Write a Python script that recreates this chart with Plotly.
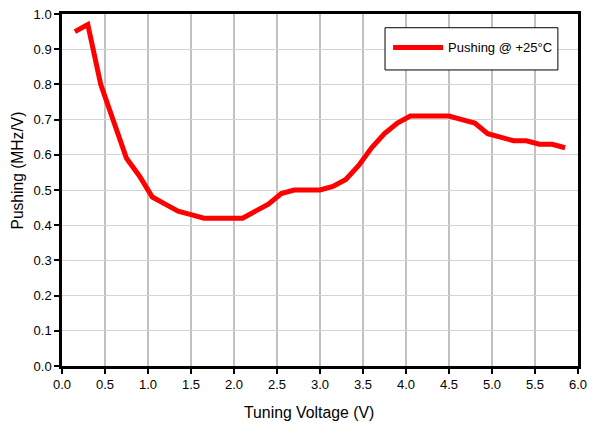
import plotly.graph_objects as go

voltage = [0.15, 0.30, 0.45, 0.60, 0.75, 0.90, 1.05, 1.20, 1.35, 1.50, 1.65, 1.80, 1.95,
           2.10, 2.25, 2.40, 2.55, 2.70, 2.85, 3.00, 3.15, 3.30, 3.45, 3.60, 3.75, 3.90,
           4.05, 4.20, 4.35, 4.50, 4.65, 4.80, 4.95, 5.10, 5.25, 5.40, 5.55, 5.70, 5.85]
pushing = [0.95, 0.97, 0.80, 0.69, 0.59, 0.54, 0.48, 0.46, 0.44, 0.43, 0.42, 0.42, 0.42,
           0.42, 0.44, 0.46, 0.49, 0.50, 0.50, 0.50, 0.51, 0.53, 0.57, 0.62, 0.66, 0.69,
           0.71, 0.71, 0.71, 0.71, 0.70, 0.69, 0.66, 0.65, 0.64, 0.64, 0.63, 0.63, 0.62]
series_name = "Pushing @ +25°C"
x_title = "Tuning Voltage (V)"
y_title = "Pushing (MHz/V)"
x_ticks = [0.0, 0.5, 1.0, 1.5, 2.0, 2.5, 3.0, 3.5, 4.0, 4.5, 5.0, 5.5, 6.0]
y_ticks = [0.0, 0.1, 0.2, 0.3, 0.4, 0.5, 0.6, 0.7, 0.8, 0.9, 1.0]

fig = go.Figure()
fig.add_trace(go.Scatter(x=voltage, y=pushing, mode="lines", name=series_name,
                         line=dict(color="#ff0000", width=5)))

font = "Liberation Sans, Arial, sans-serif"
axis_common = dict(
    showline=True, linecolor="black", linewidth=2.5, mirror=True,
    ticks="outside", ticklen=5, tickcolor="black", tickwidth=2,
    zeroline=False, ticklabeloverflow="allow", tickfont=dict(size=13),
)
fig.update_layout(
    width=592, height=423,
    margin=dict(l=62, r=14, t=14, b=57, autoexpand=False),
    paper_bgcolor="white", plot_bgcolor="white",
    font=dict(family=font, size=13, color="black"),
    showlegend=True,
    legend=dict(x=0.632, y=0.905, xanchor="left", yanchor="middle",
                bgcolor="rgba(0,0,0,0)", borderwidth=0,
                font=dict(size=13), itemwidth=50),
    shapes=[dict(type="rect", xref="paper", yref="paper",
                 x0=0.626, x1=0.961, y0=0.841, y1=0.961,
                 line=dict(color="black", width=1), fillcolor="white", layer="above")],
    annotations=[
        dict(text=x_title, xref="paper", yref="paper", x=0.4787, y=-0.132,
             xanchor="center", yanchor="middle", showarrow=False,
             font=dict(size=15.8)),
        dict(text=y_title, xref="paper", yref="paper", x=-0.0862, y=0.554,
             xanchor="center", yanchor="middle", showarrow=False, textangle=-90,
             font=dict(size=15.6)),
    ],
    xaxis=dict(range=[0, 6], tickvals=x_ticks, ticktext=[f"{v:.1f}" for v in x_ticks],
               showgrid=True, gridcolor="#c0c0c0", gridwidth=2, **axis_common),
    yaxis=dict(range=[0, 1.0], tickvals=y_ticks, ticktext=[f"{v:.1f}" for v in y_ticks],
               showgrid=True, gridcolor="#d4d4d4", gridwidth=1, **axis_common),
)

fig.write_html(
    "out.html",
    config={"displayModeBar": False},
    post_script=("document.body.style.margin='0';"
                 "document.body.style.overflow='hidden';"
                 "document.documentElement.style.overflow='hidden';"),
)
